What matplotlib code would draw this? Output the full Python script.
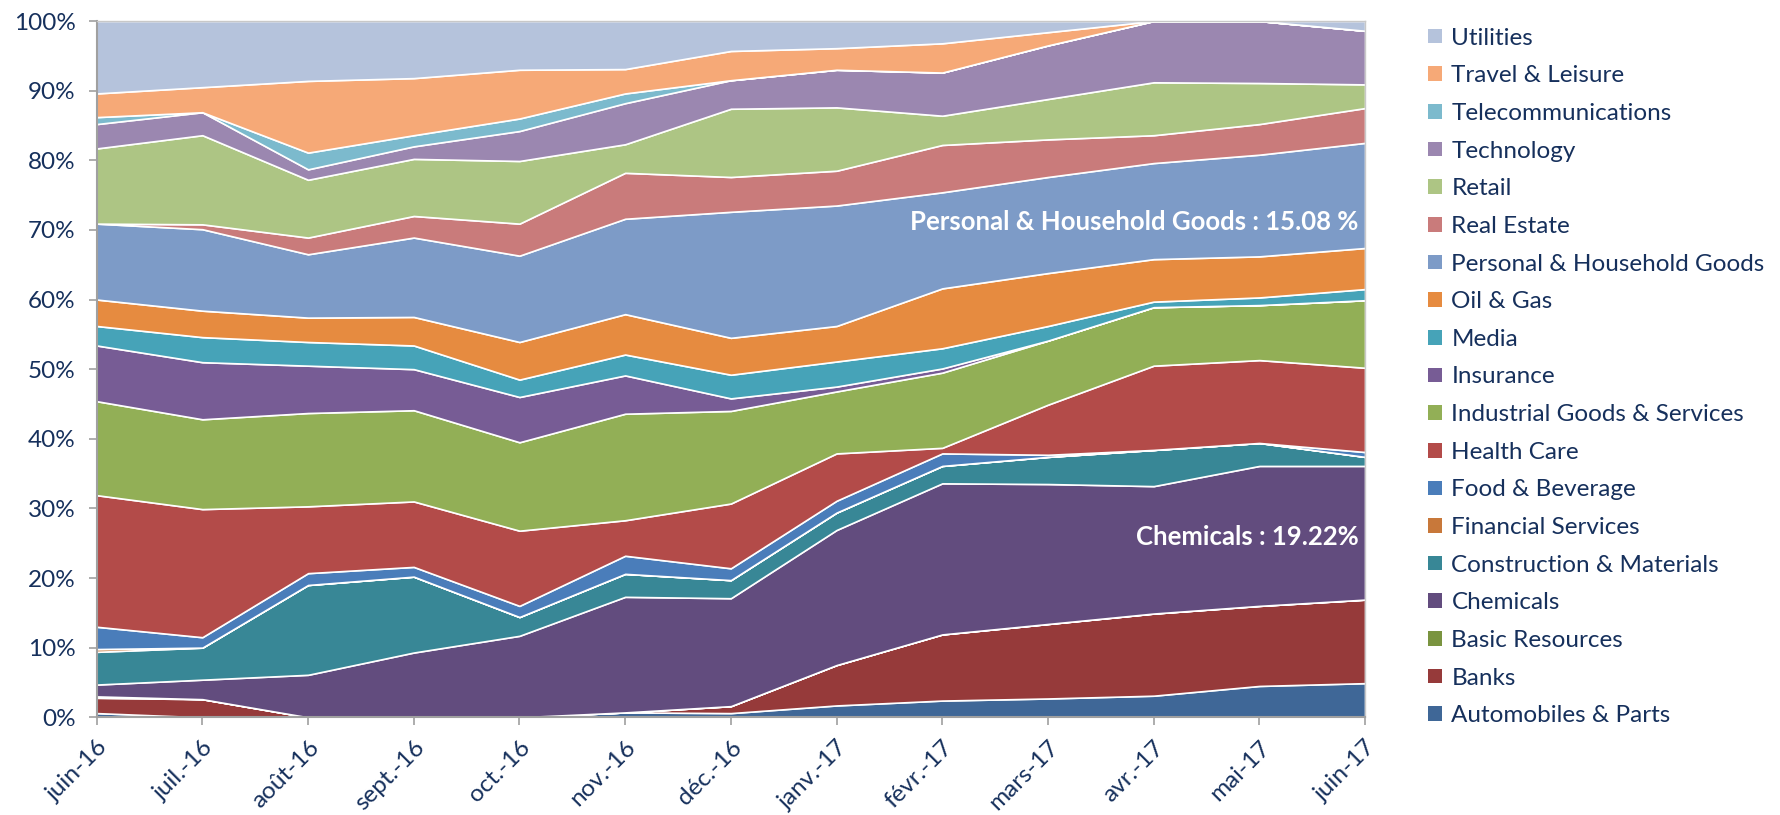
import numpy as np
import matplotlib
matplotlib.use("Agg")
import matplotlib.pyplot as plt
from matplotlib.patches import Rectangle

plt.rcParams['font.family'] = ['Lato', 'DejaVu Sans']

months = ["juin-16", "juil.-16", "août-16", "sept.-16", "oct.-16", "nov.-16", "déc.-16",
          "janv.-17", "févr.-17", "mars-17", "avr.-17", "mai-17", "juin-17"]

# Series (bottom to top of the stack), values in % of the portfolio
automobiles = [0.6, 0.0, 0.0, 0.0, 0.0, 0.7, 0.6, 1.7, 2.4, 2.7, 3.1, 4.5, 4.9]
banks = [2.2, 2.6, 0.0, 0.0, 0.0, 0.0, 1.0, 5.8, 9.5, 10.7, 11.8, 11.5, 12.0]
basic_resources = [0.2, 0.0, 0.0, 0.0, 0.0, 0.0, 0.0, 0.0, 0.0, 0.0, 0.0, 0.0, 0.0]
chemicals = [1.7, 2.8, 6.1, 9.3, 11.7, 16.6, 15.5, 19.4, 21.7, 20.1, 18.3, 20.1, 19.2]
construction = [4.7, 4.6, 12.9, 10.9, 2.7, 3.3, 2.6, 2.5, 2.5, 3.9, 5.2, 3.3, 1.3]
financial_services = [0.4, 0.0, 0.0, 0.0, 0.0, 0.0, 0.0, 0.0, 0.0, 0.0, 0.0, 0.0, 0.0]
food_beverage = [3.2, 1.5, 1.7, 1.4, 1.6, 2.6, 1.7, 1.7, 1.8, 0.3, 0.0, 0.0, 0.7]
health_care = [18.9, 18.4, 9.6, 9.4, 10.8, 5.1, 9.3, 6.8, 0.8, 7.2, 12.1, 11.9, 12.1]
industrial = [13.5, 12.9, 13.4, 13.1, 12.7, 15.3, 13.3, 8.9, 10.8, 9.2, 8.4, 7.9, 9.7]
insurance = [8.0, 8.2, 6.8, 5.9, 6.5, 5.5, 1.8, 0.7, 0.6, 0.0, 0.0, 0.0, 0.0]
media = [2.8, 3.6, 3.4, 3.4, 2.5, 3.0, 3.4, 3.6, 2.9, 2.1, 0.8, 1.1, 1.6]
oil_gas = [3.8, 3.8, 3.5, 4.1, 5.4, 5.8, 5.3, 5.1, 8.6, 7.6, 6.1, 5.9, 5.9]
personal_household = [10.9, 11.7, 9.1, 11.4, 12.4, 13.7, 18.1, 17.3, 13.8, 13.8, 13.8, 14.6, 15.1]
real_estate = [0.0, 0.7, 2.4, 3.1, 4.6, 6.6, 5.0, 5.0, 6.8, 5.4, 4.0, 4.4, 5.0]
retail = [10.8, 12.8, 8.3, 8.2, 9.0, 4.1, 9.8, 9.1, 4.2, 5.8, 7.6, 5.9, 3.4]
technology = [3.5, 3.3, 1.5, 1.8, 4.3, 5.9, 4.1, 5.4, 6.2, 7.7, 8.8, 8.9, 7.7]
telecom = [1.0, 0.0, 2.4, 1.6, 1.8, 1.4, 0.0, 0.0, 0.0, 0.0, 0.0, 0.0, 0.0]
travel_leisure = [3.4, 3.6, 10.3, 8.2, 7.0, 3.5, 4.2, 3.1, 4.2, 1.9, 0.0, 0.0, 0.0]
utilities = [10.4, 9.5, 8.6, 8.2, 7.0, 6.9, 4.3, 3.9, 3.2, 1.6, 0.0, 0.0, 1.4]

series_names = ["Automobiles & Parts", "Banks", "Basic Resources", "Chemicals",
                "Construction & Materials", "Financial Services", "Food & Beverage",
                "Health Care", "Industrial Goods & Services", "Insurance", "Media",
                "Oil & Gas", "Personal & Household Goods", "Real Estate", "Retail",
                "Technology", "Telecommunications", "Travel & Leisure", "Utilities"]
series_values = [automobiles, banks, basic_resources, chemicals, construction,
                 financial_services, food_beverage, health_care, industrial, insurance,
                 media, oil_gas, personal_household, real_estate, retail, technology,
                 telecom, travel_leisure, utilities]
colors = ["#3F6797", "#963A3A", "#7A9440", "#624C7E", "#388796", "#C8783A", "#4A7DBA",
          "#B34B49", "#92AF56", "#775C95", "#46A3B8", "#E68B40", "#7D9BC7", "#C97B7B",
          "#ADC584", "#9B87B0", "#7CBACD", "#F6A977", "#B5C3DC"]

annotations = [("Personal & Household Goods : 15.08 %", 71.1),
               ("Chemicals : 19.22%", 25.9)]

text_color = "#16305C"

fig = plt.figure(figsize=(17.8, 8.15), dpi=100)
ax = fig.add_axes([0.0543, 0.1199, 0.7126, 0.8543])

x = np.arange(len(months))
ax.stackplot(x, *[np.array(v) for v in series_values], colors=colors,
             edgecolor="white", linewidth=1.2)

ax.set_xlim(0, len(months) - 1)
ax.set_ylim(0, 100)
ax.set_yticks(np.arange(0, 101, 10))
ax.set_yticklabels([f"{v}%" for v in range(0, 101, 10)])
ax.set_xticks(x)
ax.set_xticklabels(months, rotation=45, ha="right", rotation_mode="anchor")

for s in ["top", "right"]:
    ax.spines[s].set_color("#C8C8C8")
    ax.spines[s].set_linewidth(1.0)
for s in ["left", "bottom"]:
    ax.spines[s].set_color("#A0A0A0")
    ax.spines[s].set_linewidth(1.5)

ax.tick_params(axis="both", colors="#A0A0A0", labelcolor=text_color, labelsize=17.5,
               length=6, width=1.2, direction="out")
ax.tick_params(axis="y", pad=9)
ax.tick_params(axis="x", pad=8)

for txt, yv in annotations:
    ax.text(11.94, yv, txt, color="white", fontsize=18.5, fontweight="bold",
            ha="right", va="center")

handles = [Rectangle((0, 0), 1, 1, facecolor=c, edgecolor="none") for c in colors]
leg = fig.legend(handles[::-1], series_names[::-1], loc="upper left",
                 bbox_to_anchor=(0.797, 0.978), frameon=False, fontsize=17.5,
                 handlelength=0.55, handleheight=0.55, handletextpad=0.4,
                 labelspacing=0.685, borderaxespad=0)
for t in leg.get_texts():
    t.set_color(text_color)

fig.savefig("out.png", dpi=100)
